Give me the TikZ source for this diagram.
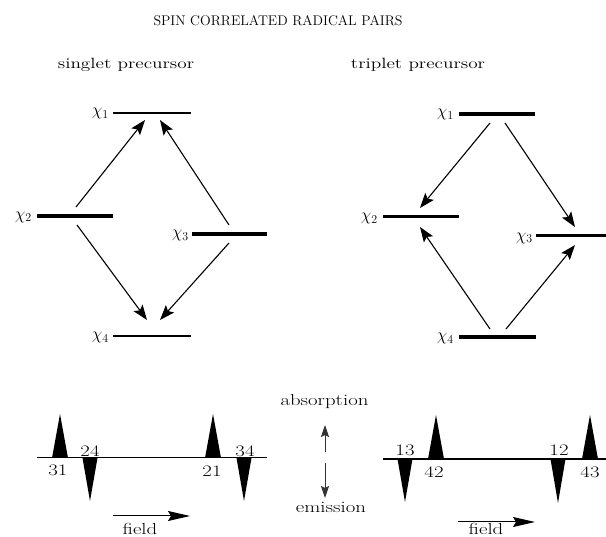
\documentclass[tikz,border=0pt]{standalone}
\usepackage{graphicx}
\usetikzlibrary{arrows.meta}
\newcommand{\widetxt}[1]{\scalebox{1.3}[1]{#1}}
\begin{document}
\begin{tikzpicture}[x=1pt,y=-1pt,
  lab/.style={font=\fontsize{16}{18}\selectfont, inner sep=0pt},
  sublab/.style={font=\fontsize{14.8}{17}\selectfont, inner sep=0pt},
  chilab/.style={font=\fontsize{17}{19}\selectfont, inner sep=0pt, anchor=east},
  thinlevel/.style={line width=2pt},
  thicklevel/.style={line width=4pt},
  trans/.style={line width=1.1pt, -{Stealth[length=15pt,width=11pt,inset=3pt]}},
  fieldarrow/.style={line width=1pt, -{Stealth[length=22pt,width=10pt,inset=3pt]}},
  aearrow/.style={line width=0.8pt, black!80, -{Stealth[length=12pt,width=8pt,inset=2pt]}},
  baseline/.style={line width=1.6pt},
  peak/.style={fill=black}
]
\useasboundingbox (0,0) rectangle (606,537);

% titles
\node[inner sep=0pt, font=\fontsize{14}{16}\selectfont] (title) at (278,21) {SPIN CORRELATED RADICAL PAIRS};
\node[sublab] (sing) at (126,65) {\widetxt{singlet precursor}};
\node[sublab] (trip) at (418,65) {\widetxt{triplet precursor}};

% ---------- singlet levels ----------
\coordinate (s1a) at (113,112.7); \coordinate (s1b) at (191,112.7);
\coordinate (s2a) at (37,215.7);  \coordinate (s2b) at (113,215.7);
\coordinate (s3a) at (192,234);   \coordinate (s3b) at (267,234);
\coordinate (s4a) at (113,336);   \coordinate (s4b) at (191,336);
\draw[thinlevel] (s1a) -- (s1b);
\draw[thicklevel] (s2a) -- (s2b);
\draw[thicklevel] (s3a) -- (s3b);
\draw[thinlevel] (s4a) -- (s4b);
\node[chilab] (sx1) at (109,113.5) {$\chi_1$};
\node[chilab] (sx2) at (32,217) {$\chi_2$};
\node[chilab] (sx3) at (189,235.5) {$\chi_3$};
\node[chilab] (sx4) at (109,337.5) {$\chi_4$};

\coordinate (sA0) at (76,207);  \coordinate (sA1) at (145,120);
\coordinate (sB0) at (229,225); \coordinate (sB1) at (160,120);
\coordinate (sC0) at (77,225);  \coordinate (sC1) at (147,320);
\coordinate (sD0) at (229,243); \coordinate (sD1) at (160,320);
\draw[trans] (sA0) -- (sA1);
\draw[trans] (sB0) -- (sB1);
\draw[trans] (sC0) -- (sC1);
\draw[trans] (sD0) -- (sD1);

% ---------- triplet levels ----------
\coordinate (t1a) at (459,114);  \coordinate (t1b) at (535,114);
\coordinate (t2a) at (383,217);  \coordinate (t2b) at (459,217);
\coordinate (t3a) at (536,236);  \coordinate (t3b) at (606,236);
\coordinate (t4a) at (459,337);  \coordinate (t4b) at (536,337);
\draw[thicklevel] (t1a) -- (t1b);
\draw[line width=3pt] (t2a) -- (t2b);
\draw[line width=3pt] (t3a) -- (t3b);
\draw[thicklevel] (t4a) -- (t4b);
\node[chilab] (tx1) at (454,114.5) {$\chi_1$};
\node[chilab] (tx2) at (378,218.5) {$\chi_2$};
\node[chilab] (tx3) at (533,238) {$\chi_3$};
\node[chilab] (tx4) at (454,338.5) {$\chi_4$};

\coordinate (tE0) at (490,123); \coordinate (tE1) at (420,208);
\coordinate (tF0) at (505,123); \coordinate (tF1) at (575,227);
\coordinate (tG0) at (490,329); \coordinate (tG1) at (420,227);
\coordinate (tH0) at (506,329); \coordinate (tH1) at (575,245);
\draw[trans] (tE0) -- (tE1);
\draw[trans] (tF0) -- (tF1);
\draw[trans] (tG0) -- (tG1);
\draw[trans] (tH0) -- (tH1);

% ---------- left spectrum ----------
\coordinate (lb0) at (37,457.7); \coordinate (lb1) at (267,457.7);
\draw[baseline] (lb0) -- (lb1);
\fill[peak] (52,458) -- (60,414) -- (68,458) -- cycle;
\fill[peak] (82.5,458) -- (90,501) -- (97.5,458) -- cycle;
\fill[peak] (205,458) -- (213,414) -- (221,458) -- cycle;
\fill[peak] (236.5,458) -- (244,501) -- (251.5,458) -- cycle;
\node[lab] (n31) at (58,470) {\widetxt{31}};
\node[lab] (n24) at (90,451) {\widetxt{24}};
\node[lab] (n21) at (212,471) {\widetxt{21}};
\node[lab] (n34) at (245,451) {\widetxt{34}};
\coordinate (lf0) at (113,516); \coordinate (lf1) at (190,516);
\draw[fieldarrow] (lf0) -- (lf1);
\node[lab, anchor=base] (lfield) at (140,535) {\widetxt{field}};

% ---------- middle ----------
\node[lab] (abs) at (324.5,402) {\widetxt{absorption}};
\node[lab] (emi) at (331,507) {\widetxt{emission}};
\coordinate (au0) at (325,452); \coordinate (au1) at (325,425);
\coordinate (ad0) at (325,463); \coordinate (ad1) at (325,498);
\draw[aearrow] (au0) -- (au1);
\draw[aearrow] (ad0) -- (ad1);

% ---------- right spectrum ----------
\coordinate (rb0) at (383,459); \coordinate (rb1) at (606,459);
\draw[baseline] (rb0) -- (rb1);
\fill[peak] (397.5,459) -- (405,502) -- (412.5,459) -- cycle;
\fill[peak] (428,459) -- (436,415) -- (444,459) -- cycle;
\fill[peak] (550.5,459) -- (558,503) -- (565.5,459) -- cycle;
\fill[peak] (582,459) -- (590,415) -- (598,459) -- cycle;
\node[lab] (n13) at (405,450) {\widetxt{13}};
\node[lab] (n42) at (434,472) {\widetxt{42}};
\node[lab] (n12) at (559,450) {\widetxt{12}};
\node[lab] (n43) at (590,472) {\widetxt{43}};
\coordinate (rf0) at (458,522); \coordinate (rf1) at (535,522);
\draw[fieldarrow] (rf0) -- (rf1);
\node[lab, anchor=base] (rfield) at (486,535) {\widetxt{field}};
\end{tikzpicture}
\end{document}
